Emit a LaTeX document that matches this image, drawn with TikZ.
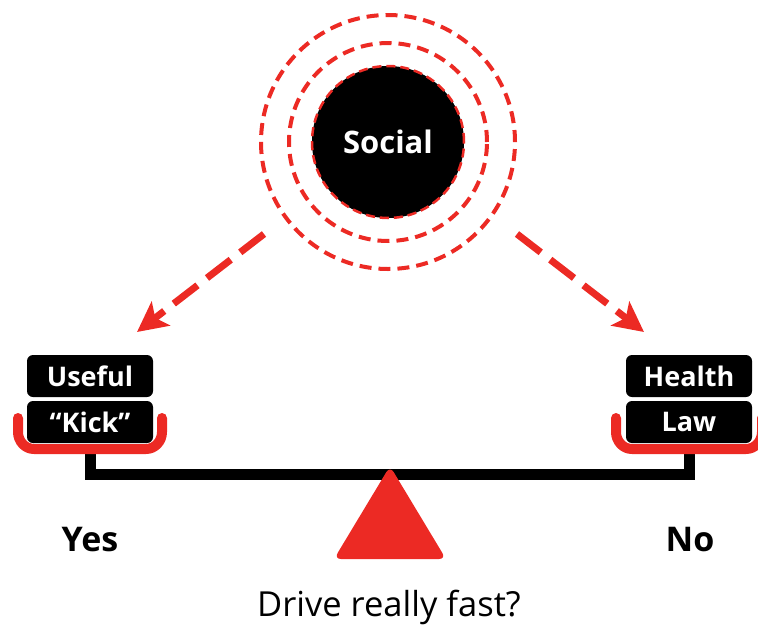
\documentclass[tikz,border=0pt]{standalone}
\usepackage{fontspec}
\setmainfont{Open Sans}
\usetikzlibrary{arrows.meta}
\definecolor{alarm}{RGB}{236,42,36}
\tikzset{
  ring/.style={circle, draw=alarm, line width=4pt, dash pattern=on 12pt off 7pt, inner sep=0pt},
  hub/.style={circle, fill=black, draw=alarm, line width=2.5pt, dash pattern=on 9pt off 5pt, inner sep=0pt,
    minimum size=152pt, text=white, font=\bfseries\fontsize{31}{31}\selectfont},
  pull/.style={draw=alarm, line width=7pt, dash pattern=on 30pt off 12pt,
    -{Stealth[length=30pt, width=30pt, inset=7pt]}},
  tag/.style={rectangle, rounded corners=6pt, fill=black, text=white, minimum width=126pt,
    minimum height=42pt, inner sep=0pt, font=\bfseries\fontsize{27}{27}\selectfont},
  cup/.style={draw=alarm, line width=10pt, line cap=round, line join=round},
  beam/.style={draw=black, line width=11pt, line join=miter},
  answer/.style={font=\bfseries\fontsize{34}{34}\selectfont, inner sep=0pt},
  question/.style={font=\fontsize{34.5}{34.5}\selectfont, inner sep=0pt}
}
\begin{document}
\begin{tikzpicture}[x=1pt, y=-1pt]
\useasboundingbox (0,0) rectangle (758,627);
\clip (0,0) rectangle (758,627);

% influence rings
\node[ring, minimum size=254pt] (outer) at (388,142) {};
\node[ring, minimum size=198pt] (inner) at (388,142) {};
\node[hub] (social) at (388,142) {Social};

% arrows towards both sides
\coordinate (lstart) at (264,234);
\coordinate (ltip) at (137,332);
\coordinate (rstart) at (517,234);
\coordinate (rtip) at (644,332);
\draw[pull] (lstart) -- (ltip);
\draw[pull] (rstart) -- (rtip);

% beam and stems
\coordinate (lpan) at (90,449);
\coordinate (rpan) at (689,449);
\draw[beam] (lpan) -- (90,474) -- (689,474) -- (rpan);

% pans
\draw[cup] (18,418) -- (18,432) to[out=-90,in=180] (34,449) -- (146,449) to[out=0,in=-90] (162,432) -- (162,418);
\draw[cup] (616,418) -- (616,432) to[out=-90,in=180] (632,449) -- (746,449) to[out=0,in=-90] (762,432) -- (762,418);

% weights
\node[tag] (useful) at (90,376) {Useful};
\node[tag] (kick) at (90,422) {“Kick”};
\node[tag] (health) at (689,376) {Health};
\node[tag] (law) at (689,422) {Law};

% fulcrum
\fill[alarm, rounded corners=7pt] (390,466) -- (446,559) -- (334,559) -- cycle;

% labels
\node[answer] (yes) at (90,540) {Yes};
\node[answer] (no) at (690,540) {No};
\node[question] (ask) at (389,607) {Drive really fast?};
\end{tikzpicture}
\end{document}
